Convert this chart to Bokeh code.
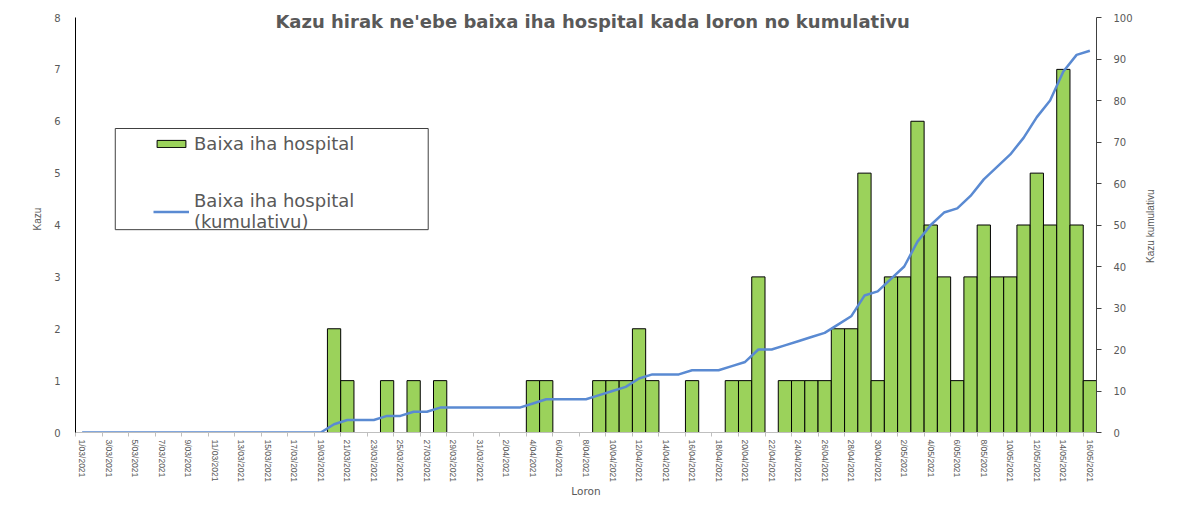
import math
from datetime import date, timedelta
from bokeh.plotting import figure
from bokeh.models import (Range1d, LinearAxis, FixedTicker, Legend, LegendItem,
                          Label, BoxAnnotation)
from bokeh.embed import file_html
from bokeh.resources import INLINE

# ---------------- data ----------------
start = date(2021, 3, 1)
dates = [f"{(start + timedelta(days=i)).day}/{(start + timedelta(days=i)).month:02d}/2021" for i in range(77)]

daily = [0, 0, 0, 0, 0, 0, 0, 0, 0, 0,
         0, 0, 0, 0, 0, 0, 0, 0, 0, 2,
         1, 0, 0, 1, 0, 1, 0, 1, 0, 0,
         0, 0, 0, 0, 1, 1, 0, 0, 0, 1,
         1, 1, 2, 1, 0, 0, 1, 0, 0, 1,
         1, 3, 0, 1, 1, 1, 1, 2, 2, 5,
         1, 3, 3, 6, 4, 3, 1, 3, 4, 3,
         3, 4, 5, 4, 7, 4, 1]

cumulative = [0, 0, 0, 0, 0, 0, 0, 0, 0, 0,
              0, 0, 0, 0, 0, 0, 0, 0, 0, 2,
              3, 3, 3, 4, 4, 5, 5, 6, 6, 6,
              6, 6, 6, 6, 7, 8, 8, 8, 8, 9,
              10, 11, 13, 14, 14, 14, 15, 15, 15, 16,
              17, 20, 20, 21, 22, 23, 24, 26, 28, 33,
              34, 37, 40, 46, 50, 53, 54, 57, 61, 64,
              67, 71, 76, 80, 87, 91, 92]

left_ticks = [0, 1, 2, 3, 4, 5, 6, 7, 8]
right_ticks = [0, 10, 20, 30, 40, 50, 60, 70, 80, 90, 100]

title_text = "Kazu hirak ne'ebe baixa iha hospital kada loron no kumulativu"
bar_label = "Baixa iha hospital"
line_label = "Baixa iha hospital\n(kumulativu)"
right_axis_title = "Kazu kumulativu"

# ---------------- styling ----------------
GRAY = "#595959"
BAR_GREEN = "#9BD25B"
LINE_BLUE = "#5A8AD2"

n = len(dates)
xs = [i + 0.5 for i in range(n)]

# a little head-room above the top tick so the title is not clipped
HEAD = 427.0 / 415.0
left_max = left_ticks[-1]
right_max = right_ticks[-1]

p = figure(width=1170, height=500, output_backend="svg", toolbar_location=None,
           x_range=Range1d(0, n), y_range=Range1d(0, left_max * HEAD),
           min_border_left=75, min_border_right=74, min_border_top=5, min_border_bottom=68)
p.extra_y_ranges = {"cum": Range1d(0, right_max * HEAD)}
p.xgrid.visible = False
p.ygrid.visible = False
p.outline_line_color = None

bars = p.vbar(x=xs, top=daily, bottom=0, width=1.0, fill_color=BAR_GREEN,
              line_color="black", line_width=1)
line = p.line(xs, cumulative, y_range_name="cum", line_color=LINE_BLUE, line_width=2.5)

# x axis
xa = p.xaxis[0]
xa.ticker = FixedTicker(ticks=[i + 0.5 for i in range(0, n, 2)],
                        minor_ticks=[i for i in range(0, n + 1, 2)])
xa.major_label_overrides = {i + 0.5: dates[i] for i in range(0, n, 2)}
xa.major_label_orientation = "vertical"
xa.major_tick_line_color = None
xa.major_tick_out = 0
xa.minor_tick_line_color = "#BFBFBF"
xa.minor_tick_out = 4
xa.minor_tick_in = 0
xa.axis_line_color = "#BFBFBF"
xa.major_label_text_font = "Liberation Sans"
xa.major_label_text_font_size = "8.5px"
xa.major_label_text_color = GRAY
xa.major_label_standoff = 3
xa.axis_label = "Loron"
xa.axis_label_text_font = "DejaVu Sans"
xa.axis_label_text_font_size = "10.5px"
xa.axis_label_text_font_style = "normal"
xa.axis_label_text_color = GRAY
xa.axis_label_standoff = 0

# left axis
ya = p.yaxis[0]
ya.ticker = FixedTicker(ticks=left_ticks)
ya.bounds = (0, left_max)
ya.major_tick_line_color = None
ya.minor_tick_line_color = None
ya.major_tick_out = 0
ya.axis_line_color = "black"
ya.major_label_text_font = "DejaVu Sans"
ya.major_label_text_font_size = "10px"
ya.major_label_text_color = GRAY
ya.major_label_standoff = 15
ya.axis_label = "Kazu"
ya.axis_label_text_font = "Liberation Sans"
ya.axis_label_text_font_size = "10px"
ya.axis_label_text_font_style = "normal"
ya.axis_label_text_color = GRAY
ya.axis_label_standoff = 8

# right axis
ra = LinearAxis(y_range_name="cum", ticker=FixedTicker(ticks=right_ticks))
ra.bounds = (0, right_max)
ra.axis_line_color = "#404040"
ra.major_tick_line_color = "#404040"
ra.major_tick_out = 5
ra.major_tick_in = 0
ra.minor_tick_line_color = None
ra.major_label_text_font = "DejaVu Sans"
ra.major_label_text_font_size = "10px"
ra.major_label_text_color = GRAY
ra.major_label_standoff = 12
p.add_layout(ra, "right")

# right axis title, reading bottom-to-top, drawn in the right side panel
p.add_layout(Label(x=n + 4.1, y=right_max * 0.497, y_range_name="cum", text=right_axis_title,
                   angle=math.pi / 2, text_align="center", text_baseline="middle",
                   text_font="Liberation Sans", text_font_size="10px", text_color=GRAY),
             "right")

# title inside the plot area
p.add_layout(Label(x=39, y=7.93, text=title_text, text_align="center", text_baseline="middle",
                   text_font="DejaVu Sans", text_font_style="bold", text_font_size="18px",
                   text_color=GRAY))

# legend frame
p.add_layout(BoxAnnotation(left=3.0, right=26.6, top=5.86, bottom=3.91,
                           fill_alpha=0, line_color="#404040", line_width=1, line_alpha=1))

legend = Legend(items=[LegendItem(label=bar_label, renderers=[bars]),
                       LegendItem(label=line_label, renderers=[line])],
                location=(78, 200), padding=5, spacing=36,
                border_line_color=None, background_fill_alpha=0,
                glyph_width=36, glyph_height=9, label_height=20, label_standoff=5,
                label_text_font="DejaVu Sans", label_text_font_size="18px",
                label_text_color=GRAY)
p.add_layout(legend)

open("out.html", "w").write(file_html(p, INLINE))
